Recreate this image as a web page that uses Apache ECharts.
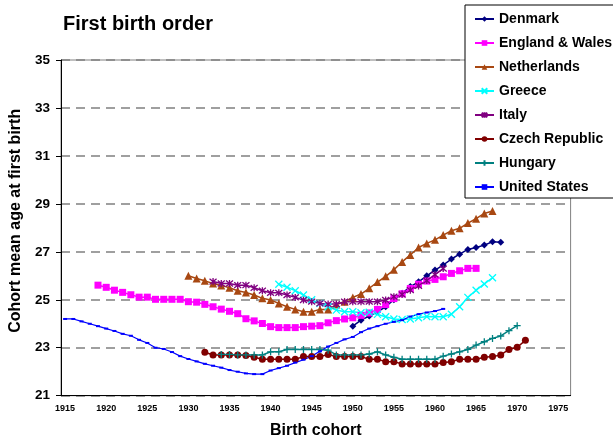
<!DOCTYPE html>
<html><head><meta charset="utf-8">
<script src="https://cdn.jsdelivr.net/npm/echarts@6/dist/echarts.min.js"></script>
<style>html,body{margin:0;padding:0;background:#fff}#c{width:613px;height:444px}</style>
</head><body><div id="c"></div>
<script>
// Categories (birth cohorts)
const firstYear = 1915, lastYear = 1976;
const years = [];
for (let y = firstYear; y <= lastYear; y++) years.push(String(y));

const yTicks = [21, 23, 25, 27, 29, 31, 33, 35];

// Series values (cohort mean age at first birth), each with its first cohort year
const denmarkStart = 1950;
const denmark = [23.9,24.15,24.32,24.5,24.71,25.0,25.27,25.55,25.75,26.0,26.24,26.45,26.7,26.9,27.1,27.18,27.28,27.42,27.4];

const englandStart = 1919;
const england = [25.61,25.52,25.4,25.31,25.21,25.11,25.11,25.02,25.02,25.02,25.02,24.92,24.9,24.81,24.71,24.61,24.52,24.42,24.21,24.12,24.01,23.88,23.84,23.84,23.84,23.88,23.9,23.92,24.04,24.13,24.2,24.25,24.35,24.45,24.6,24.8,25.05,25.25,25.47,25.65,25.78,25.85,25.96,26.1,26.21,26.31,26.31];

const netherlandsStart = 1930;
const netherlands = [26.0,25.89,25.79,25.68,25.6,25.5,25.38,25.3,25.2,25.06,24.99,24.85,24.71,24.6,24.5,24.5,24.6,24.6,24.8,24.92,25.1,25.24,25.48,25.74,25.98,26.25,26.58,26.87,27.18,27.35,27.5,27.7,27.88,27.98,28.2,28.38,28.6,28.7];

const greeceStart = 1941;
const greece = [25.65,25.52,25.38,25.2,25.0,24.85,24.71,24.57,24.5,24.5,24.46,24.48,24.39,24.29,24.2,24.18,24.2,24.25,24.3,24.29,24.29,24.4,24.71,25.1,25.4,25.66,25.92];

const italyStart = 1933;
const italy = [25.76,25.68,25.68,25.61,25.61,25.5,25.38,25.29,25.29,25.2,25.1,24.99,24.92,24.85,24.82,24.82,24.92,24.92,24.92,24.92,24.92,24.99,25.13,25.22,25.4,25.58,25.8,26.05,26.3];

const czechStart = 1932;
const czech = [22.81,22.7,22.7,22.7,22.7,22.68,22.6,22.52,22.52,22.52,22.52,22.52,22.63,22.63,22.63,22.72,22.63,22.63,22.63,22.63,22.52,22.52,22.42,22.42,22.32,22.32,22.32,22.32,22.32,22.38,22.42,22.52,22.52,22.52,22.6,22.63,22.7,22.93,23.02,23.31];

const hungaryStart = 1934;
const hungary = [22.72,22.72,22.7,22.7,22.7,22.7,22.83,22.83,22.93,22.93,22.93,22.93,22.93,22.9,22.7,22.7,22.7,22.7,22.74,22.83,22.7,22.6,22.52,22.52,22.52,22.52,22.52,22.65,22.74,22.83,22.93,23.11,23.25,23.39,23.49,23.71,23.92];

const usStart = 1915;
const us = [24.2,24.2,24.1,24.0,23.9,23.8,23.7,23.58,23.5,23.33,23.2,23.0,22.95,22.82,22.65,22.53,22.43,22.33,22.25,22.17,22.07,22.0,21.93,21.9,21.9,22.05,22.15,22.25,22.38,22.5,22.65,22.85,23.05,23.2,23.35,23.45,23.65,23.8,23.9,24.0,24.08,24.15,24.3,24.4,24.47,24.53,24.62];

function place(start, vals) {
  const out = years.map(() => null);
  vals.forEach((v, i) => { out[start - firstYear + i] = v; });
  return out;
}

const FONT = '"Liberation Sans", Arial, sans-serif';
const X_PATH = 'path://M0 0L10 10M10 0L0 10';
const STAR_PATH = 'path://M0 0L10 10M10 0L0 10M5 -1L5 11';
const PLUS_PATH = 'path://M5 0L5 10M0 5L10 5';

function mk(name, start, vals, color, symbol, size, stroke, lw) {
  return {
    name, type: 'line', data: place(start, vals),
    symbol, symbolSize: size, showAllSymbol: true, connectNulls: false,
    lineStyle: { color, width: lw || 1.5 },
    itemStyle: stroke ? { color: 'rgba(0,0,0,0)', borderColor: color, borderWidth: 1.3 } : { color, borderWidth: 0 },
    color,
    emphasis: { disabled: true }, animation: false, z: 3
  };
}

const chart = echarts.init(document.getElementById('c'), null, { renderer: 'canvas' });
chart.setOption({
  animation: false,
  backgroundColor: '#fff',
  title: {
    text: 'First birth order', left: 63, top: 14, padding: 0,
    textStyle: { fontFamily: FONT, fontSize: 20, fontWeight: 'bold', color: '#000' }
  },
  legend: {
    orient: 'vertical', left: 465, top: 5,
    padding: [6, 14, 3, 9], itemGap: 8, itemWidth: 19, itemHeight: 7,
    backgroundColor: '#fff', borderColor: '#000', borderWidth: 1,
    textStyle: { fontFamily: FONT, fontSize: 14, fontWeight: 'bold', color: '#000', lineHeight: 16 },
    data: ['Denmark', 'England & Wales', 'Netherlands', 'Greece', 'Italy', 'Czech Republic', 'Hungary', 'United States']
  },
  grid: { left: 61, top: 60, right: 42.4, bottom: 48.3, show: true, borderColor: '#808080', borderWidth: 1, containLabel: false },
  xAxis: {
    type: 'category', data: years, boundaryGap: true,
    name: 'Birth cohort', nameLocation: 'middle', nameGap: 27,
    nameTextStyle: { fontFamily: FONT, fontSize: 16, fontWeight: 'bold', color: '#000' },
    axisLine: { lineStyle: { color: '#000', width: 1 } },
    axisTick: { interval: 4, length: 4, lineStyle: { color: '#000' } },
    axisLabel: { interval: 4, margin: 8, fontFamily: FONT, fontSize: 9, fontWeight: 'bold', color: '#000' },
    splitLine: { show: false }
  },
  yAxis: {
    type: 'value', min: yTicks[0], max: yTicks[yTicks.length - 1], interval: 2,
    name: 'Cohort mean age at first birth', nameLocation: 'middle', nameGap: 36, nameRotate: 90,
    nameTextStyle: { fontFamily: FONT, fontSize: 16, fontWeight: 'bold', color: '#000', padding: [0, 0, 0, 14] },
    axisLine: { show: true, lineStyle: { color: '#000', width: 1 } },
    axisTick: { show: true, length: 5, lineStyle: { color: '#000' } },
    axisLabel: { margin: 11, fontFamily: FONT, fontSize: 13.5, fontWeight: 'bold', color: '#000' },
    splitLine: { show: true, lineStyle: { color: '#808080', width: 1.5, type: [9, 6] } }
  },
  series: [
    mk('Denmark', denmarkStart, denmark, '#000080', 'diamond', 7, false),
    mk('England & Wales', englandStart, england, '#FF00FF', 'rect', 7, false),
    mk('Netherlands', netherlandsStart, netherlands, '#A84812', 'triangle', 8, false),
    mk('Greece', greeceStart, greece, '#00FFFF', X_PATH, 7, true),
    mk('Italy', italyStart, italy, '#800080', STAR_PATH, 7, true),
    mk('Czech Republic', czechStart, czech, '#800000', 'circle', 7, false),
    mk('Hungary', hungaryStart, hungary, '#008080', PLUS_PATH, 7, true),
    mk('United States', usStart, us, '#0000FF', 'rect', [4, 2], false, 1.2)
  ]
});
</script>
</body></html>
